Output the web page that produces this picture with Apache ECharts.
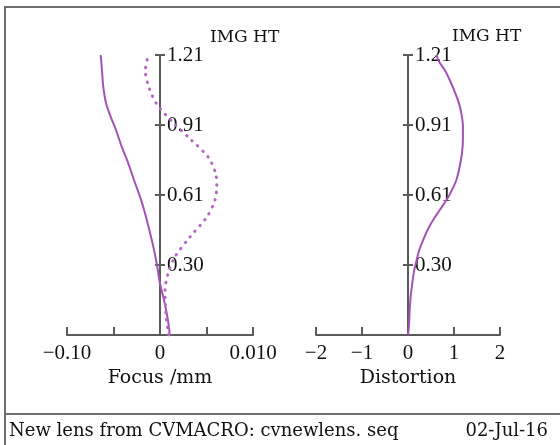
<!DOCTYPE html>
<html>
<head>
<meta charset="utf-8">
<script src="https://cdn.jsdelivr.net/npm/echarts@6/dist/echarts.min.js"></script>
<style>
  html, body { margin: 0; padding: 0; background: #fff; }
  #chart { width: 560px; height: 445px; }
</style>
</head>
<body>
<div id="chart"></div>
<script>
// field curves: tangential (solid) and sagittal (dotted), focus shift
var tanHeights = [0, 0.022, 0.079, 0.151, 0.223, 0.31, 0.382, 0.454, 0.526, 0.598, 0.67, 0.742, 0.814, 0.886, 0.943, 1.001, 1.073, 1.145, 1.21];
var tanFocus = [0.0103, 0.01, 0.0079, 0.0043, 0, -0.0036, -0.0072, -0.0115, -0.0161, -0.0215, -0.028, -0.0341, -0.0412, -0.0473, -0.053, -0.058, -0.061, -0.0624, -0.0638];

var sagHeights = [0, 0.07, 0.137, 0.194, 0.269, 0.338, 0.424, 0.509, 0.583, 0.641, 0.696, 0.768, 0.848, 0.922, 0.994, 1.066, 1.142, 1.21];
var sagFocus = [0.0095, 0.0068, 0.0057, 0.0054, 0.009, 0.0161, 0.0323, 0.0502, 0.0591, 0.061, 0.0599, 0.052, 0.0323, 0.0133, -0.0029, -0.0115, -0.0158, -0.0126];

// distortion
var distHeights = [0, 0.036, 0.108, 0.166, 0.223, 0.274, 0.324, 0.367, 0.411, 0.454, 0.497, 0.54, 0.583, 0.624, 0.67, 0.727, 0.785, 0.842, 0.899, 0.951, 1.001, 1.052, 1.102, 1.145, 1.181, 1.21];
var distValues = [0, 0.02, 0.037, 0.058, 0.093, 0.13, 0.188, 0.244, 0.33, 0.425, 0.546, 0.691, 0.836, 0.95, 1.052, 1.123, 1.173, 1.194, 1.194, 1.166, 1.108, 1.015, 0.907, 0.799, 0.676, 0.62];

// tick labels as printed on the plot
var heightTickLabels = ['', '0.30', '0.61', '0.91', '1.21'];
var focusTickLabels = ['\u22120.10', '', '0', '', '0.010'];
var distTickLabels = ['\u22122', '\u22121', '0', '1', '2'];

var FONT = 'DejaVu Serif';
var NUM_FONT = 'Liberation Serif';
var AXIS_COLOR = '#5a5a5a';
var CURVE_COLOR = '#a452b6';

function pairs(xs, ys) {
    return ys.map(function (y, i) { return [xs[i], y]; });
}

function xAxisFor(gridIndex, min, max, interval, labels, name) {
    return {
        gridIndex: gridIndex,
        type: 'value',
        min: min, max: max, interval: interval,
        position: 'bottom',
        name: name,
        nameLocation: 'middle',
        nameGap: 23,
        nameTextStyle: { fontFamily: FONT, fontSize: 19, color: '#111' },
        axisLine: { onZero: false, lineStyle: { color: AXIS_COLOR, width: 2 } },
        axisTick: { inside: true, length: 8, lineStyle: { color: AXIS_COLOR, width: 2 } },
        axisLabel: {
            margin: 8, fontFamily: NUM_FONT, fontSize: 21, color: '#111',
            formatter: function (v) { return labels[Math.round((v - min) / interval)]; }
        },
        splitLine: { show: false }
    };
}

// two y axes per grid, shifted to the middle, so the ticks cross the line
function yAxesFor(gridIndex, shift, namePad) {
    var base = {
        gridIndex: gridIndex,
        type: 'value',
        min: 0, max: 1.21, interval: 0.3025,
        offset: shift,
        axisLine: { onZero: false, lineStyle: { color: AXIS_COLOR, width: 2 } },
        axisTick: { length: 5, lineStyle: { color: AXIS_COLOR, width: 2 } },
        splitLine: { show: false }
    };
    var left = Object.assign({}, base, { position: 'left', axisLabel: { show: false } });
    var right = Object.assign({}, base, {
        position: 'right',
        name: 'IMG HT',
        nameLocation: 'end',
        nameGap: 17,
        nameTextStyle: { fontFamily: FONT, fontSize: 17, color: '#111', align: 'left', verticalAlign: 'middle', padding: [0, 0, 0, namePad] },
        axisLabel: {
            margin: 7, fontFamily: NUM_FONT, fontSize: 21, color: '#111',
            formatter: function (v) { return heightTickLabels[Math.round(v / 0.3025)]; }
        }
    });
    return [left, right];
}

var myChart = echarts.init(document.getElementById('chart'));
myChart.setOption({
    animation: false,
    grid: [
        { left: 67, top: 55, width: 186, height: 280 },
        { left: 316, top: 55, width: 184, height: 280 }
    ],
    xAxis: [
        xAxisFor(0, -0.1, 0.1, 0.05, focusTickLabels, 'Focus /mm'),
        xAxisFor(1, -2, 2, 1, distTickLabels, 'Distortion')
    ],
    yAxis: yAxesFor(0, -93, 50).concat(yAxesFor(1, -92, 44)),
    series: [
        {
            type: 'line', xAxisIndex: 0, yAxisIndex: 1,
            data: pairs(tanFocus, tanHeights),
            showSymbol: false, smooth: 0.3,
            lineStyle: { color: CURVE_COLOR, width: 2 }
        },
        {
            type: 'line', xAxisIndex: 0, yAxisIndex: 1,
            data: pairs(sagFocus, sagHeights),
            showSymbol: false, smooth: 0.3,
            lineStyle: { color: '#b468c4', width: 3, type: [0.5, 7], cap: 'round' }
        },
        {
            type: 'line', xAxisIndex: 1, yAxisIndex: 3,
            data: pairs(distValues, distHeights),
            showSymbol: false, smooth: 0.3,
            lineStyle: { color: CURVE_COLOR, width: 2 }
        }
    ],
    graphic: [
        // frame
        { type: 'line', shape: { x1: 5, y1: 7, x2: 560, y2: 7 }, style: { stroke: '#6e6e6e', lineWidth: 2 } },
        { type: 'line', shape: { x1: 5, y1: 6, x2: 5, y2: 445 }, style: { stroke: '#6e6e6e', lineWidth: 2 } },
        { type: 'line', shape: { x1: 5, y1: 414, x2: 560, y2: 414 }, style: { stroke: '#6e6e6e', lineWidth: 2 } },
        { type: 'text', left: 9, top: 422, style: { text: 'New lens from CVMACRO: cvnewlens. seq', font: '18px "DejaVu Serif"', fill: '#111' } },
        { type: 'text', right: 12, top: 422, style: { text: '02-Jul-16', font: '18px "DejaVu Serif"', fill: '#111' } }
    ]
});
</script>
</body>
</html>
